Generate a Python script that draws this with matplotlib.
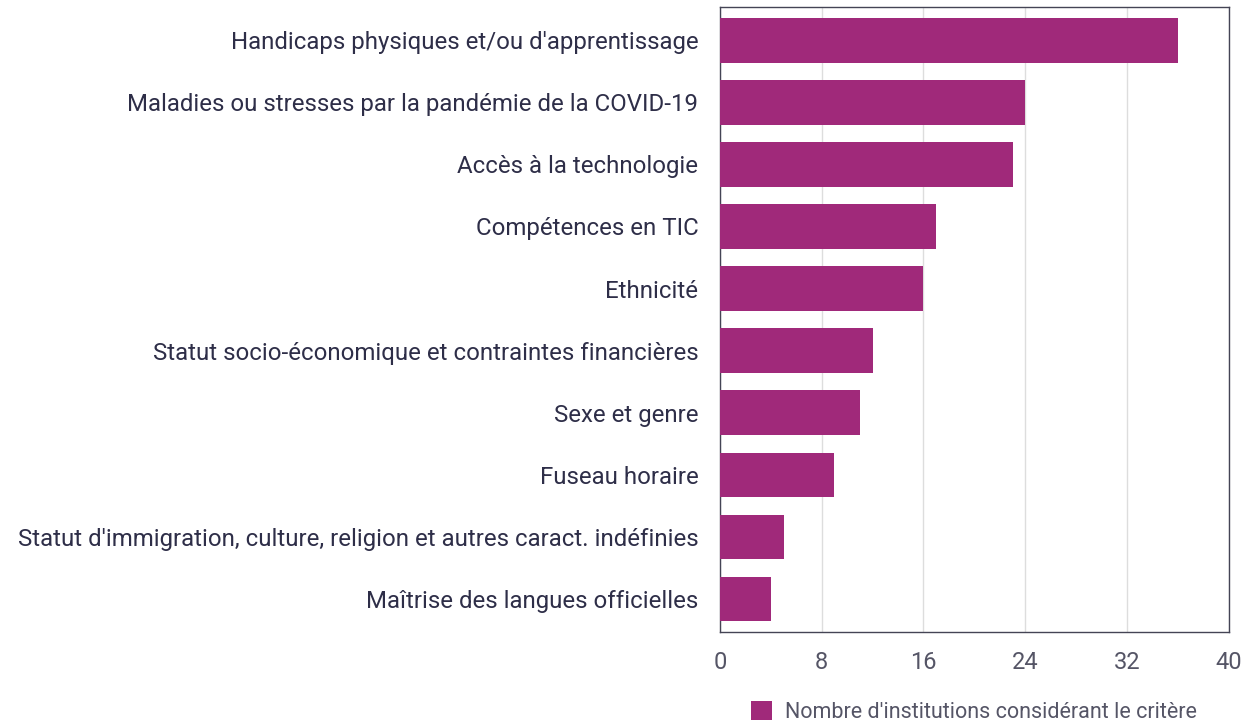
import matplotlib
matplotlib.use("Agg")
import matplotlib.pyplot as plt
from matplotlib.patches import Patch

categories = [
    "Handicaps physiques et/ou d'apprentissage",
    "Maladies ou stresses par la pandémie de la COVID-19",
    "Accès à la technologie",
    "Compétences en TIC",
    "Ethnicité",
    "Statut socio-économique et contraintes financières",
    "Sexe et genre",
    "Fuseau horaire",
    "Statut d'immigration, culture, religion et autres caract. indéfinies",
    "Maîtrise des langues officielles",
]
values = [36, 24, 23, 17, 16, 12, 11, 9, 5, 4]
xticks = [0, 8, 16, 24, 32, 40]
legend_label = "Nombre d'institutions considérant le critère"

bar_color = "#A0297A"
text_color = "#2E2E48"

plt.rcParams["font.family"] = ["Roboto", "DejaVu Sans"]

fig = plt.figure(figsize=(12.52, 7.26), dpi=100)
ax = fig.add_axes([0.575, 0.1295, 0.4065, 0.8605])

ypos = list(range(len(categories)))
ax.barh(ypos, values, height=0.72, color=bar_color, zorder=3)
ax.set_yticks(ypos)
ax.set_yticklabels(categories, fontsize=17.3, color=text_color)
ax.set_ylim(len(categories) - 0.47, -0.53)
ax.set_xlim(0, 40)
ax.set_xticks(xticks)
ax.set_xticklabels([str(t) for t in xticks], fontsize=17, color="#555566")
ax.tick_params(axis="y", length=0, pad=15.5)
ax.tick_params(axis="x", length=0, pad=14)
ax.grid(axis="x", color="#DDDDDD", linewidth=1, zorder=0)
for s in ax.spines.values():
    s.set_color("#444455")
    s.set_linewidth(1.0)

handle = Patch(facecolor=bar_color, edgecolor="none")
fig.legend([handle], [legend_label], loc="lower center",
           bbox_to_anchor=(0.778, -0.022), frameon=False,
           fontsize=15.5, labelcolor="#555566",
           handlelength=1.0, handleheight=1.0, handletextpad=0.6)

fig.savefig("out.png", dpi=100)
